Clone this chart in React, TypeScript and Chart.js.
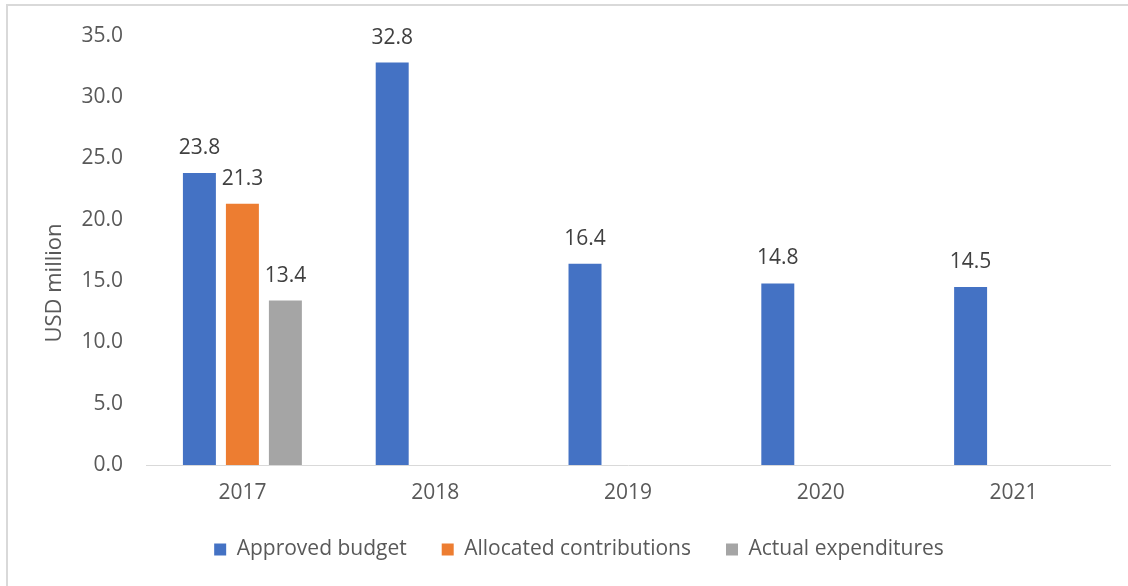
import React, { useEffect, useRef } from "react";
import { Chart, registerables } from "chart.js";

Chart.register(...registerables);

const categories = ["2017", "2018", "2019", "2020", "2021"];
const approvedBudget = [23.8, 32.8, 16.4, 14.8, 14.5];
const allocatedContributions = [21.3, null, null, null, null];
const actualExpenditures = [13.4, null, null, null, null];
const seriesNames = ["Approved budget", "Allocated contributions", "Actual expenditures"];
const seriesColors = ["#4472C4", "#ED7D31", "#A5A5A5"];
const yMin = 0;
const yMax = 35;
const yStep = 5;
const yAxisTitle = "USD million";

const FONT = "'Open Sans', 'Noto Sans', sans-serif";

const dataLabelPlugin = {
  id: "dataLabels",
  afterDatasetsDraw(chart: any) {
    const ctx = chart.ctx;
    ctx.save();
    ctx.font = `21px ${FONT}`;
    ctx.fillStyle = "#404040";
    ctx.textAlign = "center";
    ctx.textBaseline = "middle";
    chart.data.datasets.forEach((ds: any, di: number) => {
      const meta = chart.getDatasetMeta(di);
      meta.data.forEach((el: any, i: number) => {
        const v = ds.data[i];
        if (v === null || v === undefined) return;
        ctx.fillText(Number(v).toFixed(1), el.x, el.y - 25);
      });
    });
    ctx.restore();
  },
};

const axisTitlePlugin = {
  id: "axisTitle",
  afterDraw(chart: any) {
    const ctx = chart.ctx;
    ctx.save();
    ctx.translate(55, 283);
    ctx.rotate(-Math.PI / 2);
    ctx.font = `22px ${FONT}`;
    ctx.fillStyle = "#595959";
    ctx.textAlign = "center";
    ctx.textBaseline = "middle";
    ctx.fillText(yAxisTitle, 0, 0);
    ctx.restore();
  },
};

export default function App() {
  const ref = useRef<HTMLCanvasElement | null>(null);

  useEffect(() => {
    if (!ref.current) return;
    const seriesData = [approvedBudget, allocatedContributions, actualExpenditures];
    const chart = new Chart(ref.current, {
      type: "bar",
      data: {
        labels: categories,
        datasets: seriesNames.map((name, i) => ({
          label: name,
          data: seriesData[i],
          backgroundColor: seriesColors[i],
          borderWidth: 0,
          categoryPercentage: 0.669,
          barPercentage: 0.767,
        })),
      },
      options: {
        responsive: false,
        animation: false,
        layout: { padding: { left: 48, right: 18, top: 34, bottom: 16 } },
        scales: {
          x: {
            grid: { display: false, drawTicks: false },
            border: { display: true, color: "#d9d9d9", width: 1 },
            ticks: { color: "#595959", font: { family: FONT, size: 21 }, padding: 15 },
            afterFit: (s: any) => {
              s.height = 39;
            },
          },
          y: {
            min: yMin,
            max: yMax,
            grid: { display: false, drawTicks: false },
            border: { display: false },
            ticks: {
              stepSize: yStep,
              color: "#595959",
              font: { family: FONT, size: 21 },
              padding: 23,
              callback: (v: any) => Number(v).toFixed(1),
            },
            afterFit: (s: any) => {
              s.width = 98;
            },
          },
        },
        plugins: {
          legend: {
            position: "bottom",
            labels: {
              boxWidth: 12,
              boxHeight: 12,
              padding: 35,
              color: "#595959",
              font: { family: FONT, size: 21 },
            },
          },
          tooltip: { enabled: false },
          title: { display: false },
        },
      },
      plugins: [dataLabelPlugin, axisTitlePlugin],
    } as any);
    return () => chart.destroy();
  }, []);

  return (
    <div
      style={{
        position: "fixed",
        left: 0,
        top: 0,
        width: 1128,
        height: 586,
        background: "#ffffff",
        overflow: "hidden",
      }}
    >
      <div
        style={{
          position: "absolute",
          left: 6,
          top: 4,
          right: 0,
          bottom: 0,
          borderLeft: "2px solid #d9d9d9",
          borderTop: "2px solid #d9d9d9",
        }}
      />
      <canvas
        ref={ref}
        width={1128}
        height={586}
        style={{ position: "absolute", left: 0, top: 0, width: 1128, height: 586 }}
      />
    </div>
  );
}
